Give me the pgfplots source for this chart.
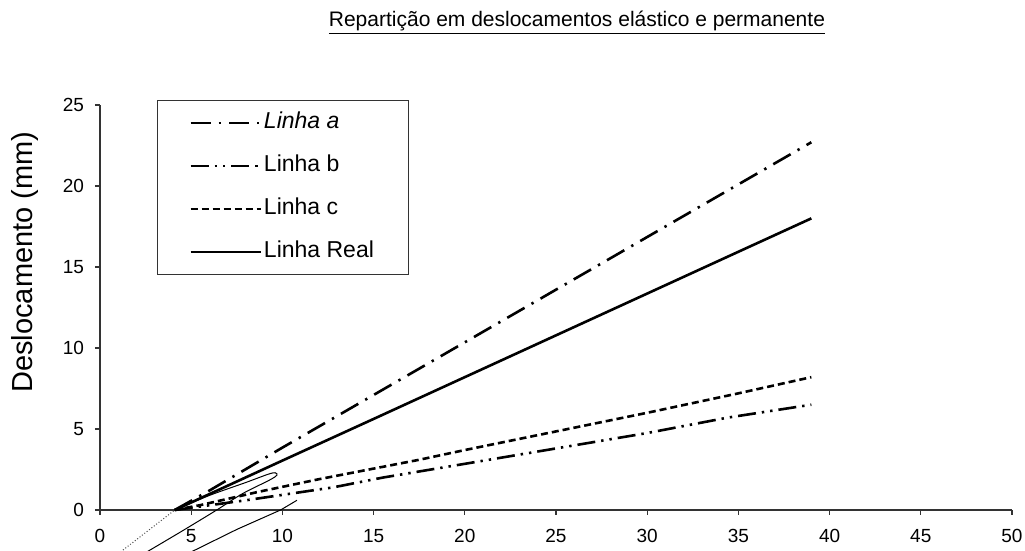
\documentclass[border=0pt]{standalone}
\usepackage{fontspec}
\setmainfont{Liberation Sans}
\usepackage{pgfplots}
\pgfplotsset{compat=1.18}

\begin{document}
\begin{tikzpicture}
\path[use as bounding box] (-50pt,-20.5pt) rectangle (462.5pt,255pt);
\begin{axis}[
    at={(0,0)}, anchor=south west,
    scale only axis, width=456pt, height=202.5pt,
    xmin=0, xmax=50, ymin=0, ymax=25,
    xtick={0,5,...,50}, ytick={0,5,...,25},
    axis x line=bottom, axis y line=left,
    axis line style={-, black!80, line width=0.6pt},
    tick style={black!80, line width=0.6pt},
    tick align=outside, major tick length=2.5pt,
    /pgf/number format/assume math mode=true,
    tick label style={font=\fontsize{9.5}{10}\selectfont},
    xticklabel style={yshift=-3.5pt},
    yticklabel style={xshift=-2pt},
    ylabel={Deslocamento (mm)},
    ylabel style={font=\fontsize{14.5}{16}\selectfont, at={(axis description cs:-0.082,0.612)}, anchor=center},
    title={\underline{Repartição em deslocamentos elástico e permanente}},
    title style={font=\fontsize{10.5}{12}\selectfont, at={(axis description cs:0.523,1.173)}, anchor=center},
    clip=false,
    legend style={at={(axis description cs:0.0625,1.012)}, anchor=north west,
        draw=black!80, line width=0.4pt, fill=white,
        inner xsep=16pt, inner ysep=5pt, row sep=9pt,
        font=\fontsize{11.5}{12}\selectfont,
        nodes={inner sep=1pt, text height=8pt, text depth=2.5pt}},
    legend cell align=left,
    legend image code/.code={\draw[#1] (0pt,0pt) -- (35pt,0pt);},
]
\addplot[black, line width=1.3pt, dash pattern=on 10pt off 4pt on 1.2pt off 4pt] coordinates {
    (4.1,0) (6,1.2) (10,3.85) (15,7.1) (20,10.35) (25,13.6) (30,16.85) (35,20.1) (39,22.7)
};
\addlegendentry{\textit{Linha a}}
\addplot[black, line width=1.3pt, dash pattern=on 9pt off 3pt on 1.2pt off 3pt on 1.2pt off 3pt] coordinates {
    (4.1,0) (8,0.6) (12.8,1.4) (15.5,2.0) (20,2.85) (25,3.8) (30,4.75) (34.4,5.7) (39,6.5)
};
\addlegendentry{Linha b}
\addplot[black, line width=1.3pt, dash pattern=on 3.5pt off 2pt] coordinates {
    (4.1,0) (5.5,0.3) (8.6,1.1) (12,1.9) (17.5,3.1) (20,3.7) (25,4.85) (30,6.0) (35,7.2) (39,8.2)
};
\addlegendentry{Linha c}
\addplot[black, line width=1.3pt] coordinates {
    (4.1,0) (10,3.05) (15,5.62) (20,8.2) (25,10.78) (30,13.36) (35,15.94) (39,18.0)
};
\addlegendentry{Linha Real}
% thin loading/unloading traces near the origin
\addplot[black, line width=0.5pt, smooth, forget plot] coordinates {
    (4.1,0) (6,0.9) (8,1.7) (9.2,2.2) (9.6,2.3) (9.7,2.15) (9.3,1.85) (7.8,1.0) (6.4,0) (4.5,-1.3) (2.4,-2.7)
};
\addplot[black, line width=0.5pt, forget plot] coordinates {
    (4.8,-2.7) (7.5,-1.2) (9.9,0) (10.8,0.6)
};
\addplot[black!70, line width=0.5pt, densely dotted, forget plot] coordinates {
    (1.0,-2.7) (4.1,0)
};
\end{axis}
\end{tikzpicture}
\end{document}
